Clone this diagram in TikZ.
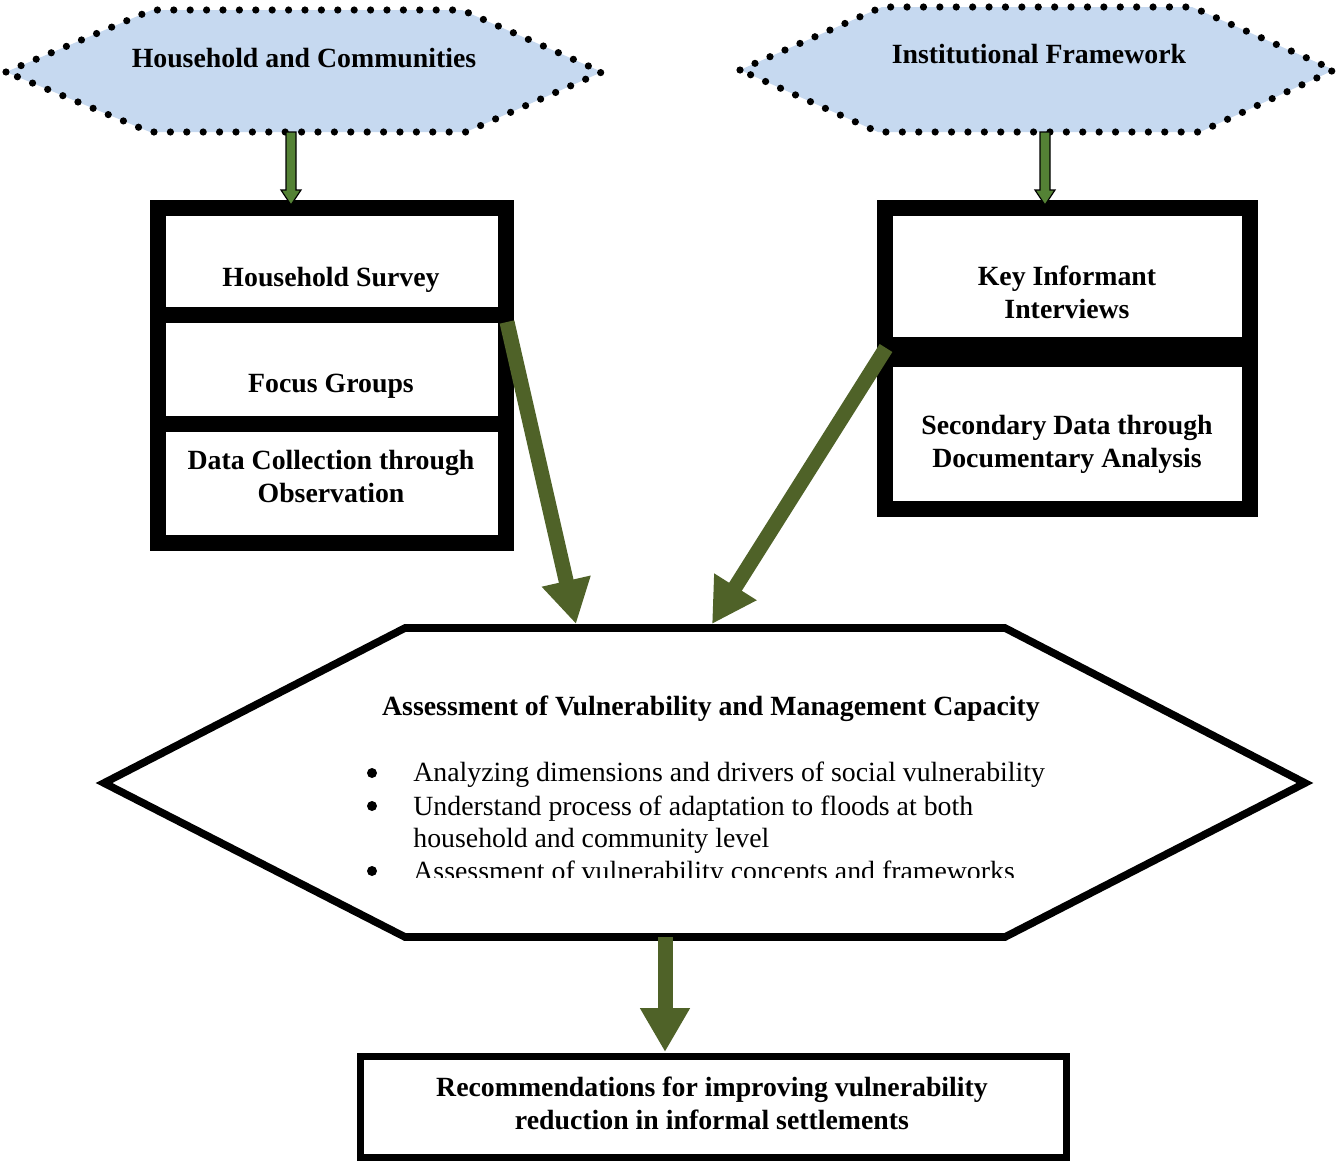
\documentclass[tikz,border=0pt]{standalone}
\usepackage{fontspec}
\setmainfont{Liberation Serif}
\usetikzlibrary{arrows.meta,calc}
\definecolor{hexblue}{HTML}{C6D9F0}
\definecolor{darkolive}{HTML}{4F6228}
\definecolor{arrowgreen}{HTML}{548235}
\begin{document}
\begin{tikzpicture}[x=0.5pt,y=-0.5pt,
  dothex/.style={fill=hexblue, draw=black, line width=3.6pt, line cap=round, dash pattern=on 0pt off 8.2pt, line join=round},
  cellbox/.style={draw=black, line width=8pt, fill=white, inner sep=0pt},
  lbl/.style={font=\bfseries\fontsize{13.9}{16.5}\selectfont, align=center, inner sep=0pt},
  txt/.style={font=\fontsize{13.9}{17}\selectfont, inner sep=0pt, anchor=base west},
  dotbul/.style={circle, fill=black, inner sep=0pt, minimum size=5pt},
  bigarrow/.style={draw=darkolive, line width=7.5pt, -{Triangle[width=23.5pt,length=22pt]}},
  smallarrow/.style={fill=arrowgreen, draw=black, line width=0.6pt, line join=miter}]

\useasboundingbox (0,0) rectangle (1339,1162);

% top dotted hexagons
\filldraw[dothex] (6,72) -- (152,10) -- (462,10) -- (602,72) -- (466,132) -- (150,132) -- cycle;
\filldraw[dothex] (740,70) -- (882,7) -- (1192,7) -- (1334,70) -- (1200,132) -- (878,132) -- cycle;
\node[lbl] (hc) at (304,58) {Household and Communities};
\node[lbl] (inf) at (1039,54) {Institutional Framework};

% left stacked box
\node[cellbox, minimum width=174pt, minimum height=53.5pt] (hsbox) at (332,261.5) {};
\node[cellbox, minimum width=174pt, minimum height=54.5pt] (fgbox) at (332,369.5) {};
\node[cellbox, minimum width=174pt, minimum height=59.5pt] (dcbox) at (332,483.5) {};
\node[lbl] (hs) at (331,280) {Household Survey};
\node[lbl] (fg) at (331,386) {Focus Groups};
\node[lbl] (dc) at (331,476) {Data Collection through\\Observation};

% right stacked box
\node[cellbox, minimum width=182.5pt, minimum height=68.5pt] (kibox) at (1067.5,276.5) {};
\node[cellbox, minimum width=182.5pt, minimum height=75pt] (sdbox) at (1067.5,434) {};
\node[lbl] (ki) at (1067,292) {Key Informant\\Interviews};
\node[lbl] (sd) at (1067,444) {Secondary Data through\\Documentary Analysis};

% connector end points
\coordinate (hcS) at (291,132);
\coordinate (hsT) at (291,205);
\coordinate (infS) at (1045,132);
\coordinate (kiT) at (1045,205);

% small arrows
\filldraw[smallarrow] let \p1=(hcS), \p2=(hsT) in
  (\x1-2.5pt,\y1) -- (\x1-2.5pt,\y2+7.5pt) -- (\x1-5pt,\y2+7.5pt) -- (\x1,\y2)
  -- (\x1+5pt,\y2+7.5pt) -- (\x1+2.5pt,\y2+7.5pt) -- (\x1+2.5pt,\y1) -- cycle;
\filldraw[smallarrow] let \p1=(infS), \p2=(kiT) in
  (\x1-2.5pt,\y1) -- (\x1-2.5pt,\y2+7.5pt) -- (\x1-5pt,\y2+7.5pt) -- (\x1,\y2)
  -- (\x1+5pt,\y2+7.5pt) -- (\x1+2.5pt,\y2+7.5pt) -- (\x1+2.5pt,\y1) -- cycle;

% big hexagon
\filldraw[draw=black, fill=white, line width=3.8pt, line join=miter]
  (104,783) -- (405,628) -- (1005,628) -- (1305,783) -- (1005,937) -- (405,937) -- cycle;
\coordinate (avN1) at (576,624);
\coordinate (avN2) at (712,624);
\coordinate (avS) at (665,937);
\coordinate (hsE) at (507,322);
\coordinate (kiW) at (886,348);

\node[dotbul] (d1) at (372,773) {};
\node[dotbul] (d2) at (372,806) {};
\node[dotbul] (d3) at (372,871) {};
\begin{scope}
  \clip (0,640) rectangle (1339,877);
  \node[lbl, anchor=base] (av) at (711,715) {Assessment of Vulnerability and Management Capacity};
  \node[txt] (b1) at (413,781) {Analyzing dimensions and drivers of social vulnerability};
  \node[txt] (b2) at (413,815) {Understand process of adaptation to floods at both};
  \node[txt] (b2b) at (413,847) {household and community level};
  \node[txt] (b3) at (413,880) {Assessment of vulnerability concepts and frameworks};
\end{scope}

% big arrows
\draw[bigarrow] (hsE) -- (avN1);
\draw[bigarrow] (kiW) -- (avN2);

% bottom box
\node[draw=black, line width=3.5pt, minimum width=353pt, minimum height=50.5pt, inner sep=0pt] (recbox) at (713,1106.5) {};
\node[lbl] (rec) at (712,1103) {Recommendations for improving vulnerability\\reduction in informal settlements};
\coordinate (recT) at (665,1052);
\draw[bigarrow] (avS) -- (recT);

\end{tikzpicture}
\end{document}
